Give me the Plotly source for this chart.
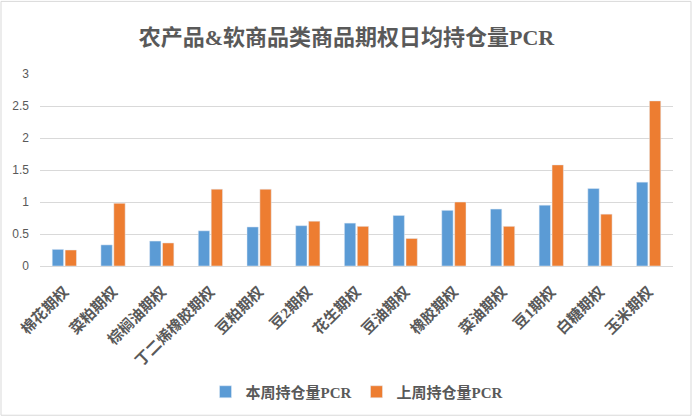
import plotly.graph_objects as go

categories = ["棉花期权", "菜粕期权", "棕榈油期权", "丁二烯橡胶期权", "豆粕期权", "豆2期权", "花生期权",
              "豆油期权", "橡胶期权", "菜油期权", "豆1期权", "白糖期权", "玉米期权"]
this_week = [0.26, 0.33, 0.39, 0.55, 0.61, 0.63, 0.67, 0.79, 0.87, 0.89, 0.95, 1.21, 1.31]
last_week = [0.25, 0.98, 0.36, 1.20, 1.20, 0.70, 0.62, 0.43, 1.00, 0.62, 1.58, 0.81, 2.58]
y_ticks = [0, 0.5, 1, 1.5, 2, 2.5, 3]

GRAY = "#595959"
CJK = "Liberation Serif, Noto Sans CJK SC"

fig = go.Figure()
fig.add_trace(go.Bar(x=categories, y=this_week, name="<b>本周持仓量PCR</b>",
                     marker=dict(color="#5B9BD5")))
fig.add_trace(go.Bar(x=categories, y=last_week, name="<b>上周持仓量PCR</b>",
                     marker=dict(color="#ED7D31")))

# light frame round the whole chart
L, T, B, W = 40, 74, 267, 633
H = B - T
fig.add_shape(type="rect", xref="paper", yref="paper",
              x0=(1 - L) / W, x1=(691 - L) / W, y0=(B - 417) / H, y1=(B - 1) / H,
              line=dict(color="#D9D9D9", width=1))

fig.update_layout(
    width=693, height=419,
    paper_bgcolor="white", plot_bgcolor="white",
    margin=dict(l=L, r=693 - L - W, t=T, b=419 - B),
    title=dict(text="<b>农产品&软商品类商品期权日均持仓量PCR</b>", x=0.5, xanchor="center",
               y=1 - 37 / 419, yanchor="middle",
               font=dict(family=CJK, size=22, color=GRAY)),
    barmode="group", bargap=0.47, bargroupgap=0.12,
    legend=dict(orientation="h", x=0.5, xanchor="center", y=(B - 392) / H, yanchor="middle",
                font=dict(family=CJK, size=15, color=GRAY), itemwidth=30,
                traceorder="normal"),
    xaxis=dict(tickangle=-45, tickfont=dict(family=CJK, size=15, color=GRAY),
               tickvals=categories, ticktext=[f"<b>{c}</b>" for c in categories],
               showline=True, linecolor="#D9D9D9", ticks="", ticklabelstandoff=10),
    yaxis=dict(range=[0, 3], tickvals=y_ticks, ticktext=[str(v) for v in y_ticks],
               tickfont=dict(family="Liberation Sans", size=12, color=GRAY),
               gridcolor="#D9D9D9", zeroline=False, ticks="", ticklabelstandoff=10),
)

fig.write_html("out.html", config={"displayModeBar": False},
               post_script="document.body.style.margin='0';")
